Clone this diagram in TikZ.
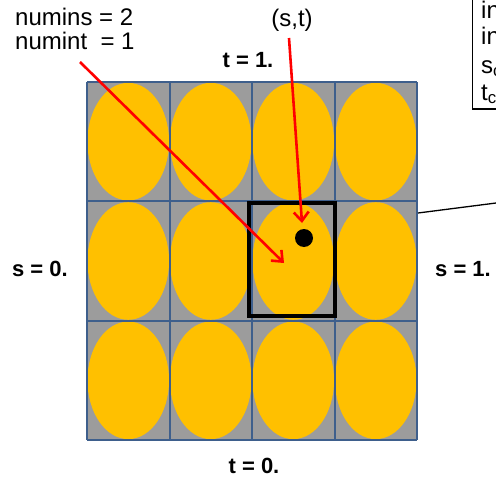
\documentclass[tikz,border=0pt]{standalone}
\usepackage{fontspec}
\setmainfont{Liberation Sans}
\usetikzlibrary{arrows.meta}
\definecolor{cellgray}{HTML}{9C9C9C}
\definecolor{ovalorange}{HTML}{FFC000}
\definecolor{gridblue}{HTML}{3E5F8C}
\begin{document}
\begin{tikzpicture}[x=1pt,y=-1pt,
  lbl/.style={inner sep=0pt,font=\fontsize{24}{23.5}\selectfont},
  blbl/.style={inner sep=0pt,font=\fontsize{22}{24}\selectfont\bfseries},
  redarrow/.style={draw=red,line width=2.6pt,-{Straight Barb[length=9pt,width=15pt,line width=2.6pt]}},
  oval/.style={fill=ovalorange,draw=none}]
\useasboundingbox (0,0) rectangle (496,479);
\clip (0,0) rectangle (496,479);
% grid background
\fill[cellgray] (87,82) rectangle (417,440);
\foreach \i in {0,...,3}{
  \foreach \j in {0,...,2}{
    \fill[ovalorange] ({87+82.5*\i+41.25},{82+119.33*\j+59.67}) ellipse (40.8 and 58.8);
  }
}
\foreach \i in {0,...,4}{
  \draw[gridblue,line width=2pt] ({87+82.5*\i},82) -- ({87+82.5*\i},440);
}
\foreach \j in {0,...,3}{
  \draw[gridblue,line width=2pt] (87,{82+119.33*\j}) -- (417,{82+119.33*\j});
}
% highlighted cell
\draw[black,line width=4pt] (249,203) rectangle (335,316);
\node[circle,fill=black,minimum size=18pt,inner sep=0pt] (pt) at (304,238) {};
% labels
\node[lbl,anchor=base west] (numins) at (15,26) {numins = 2};
\node[lbl,anchor=base west] (numint) at (15,49) {numint\ \ = 1};
\node[lbl] (st) at (292,20) {(s,t)};
\node[blbl] (t1) at (248,60) {t = 1.};
\node[blbl] (t0) at (254,466) {t = 0.};
\node[blbl] (s0) at (40,269) {s = 0.};
\node[blbl] (s1) at (463,269) {s = 1.};
% arrows
\coordinate (a1s) at (80,62);
\coordinate (a1e) at (284,263);
\coordinate (a2s) at (289,38);
\coordinate (a2e) at (302,223);
\draw[redarrow] (a1s) -- (a1e);
\draw[redarrow] (a2s) -- (a2e);
% line to box
\coordinate (ls) at (418,213);
\coordinate (le) at (500,202.5);
\draw[black,line width=1.3pt] (ls) -- (le);
% clipped text box at top right
\draw[black,line width=1.2pt] (472.5,-5) rectangle (520,109);
\node[lbl,anchor=base west] (b1) at (481,18) {in};
\node[lbl,anchor=base west] (b2) at (481,45) {in};
\node[lbl,anchor=base west] (b3) at (481,73) {s\textsubscript{c}};
\node[lbl,anchor=base west] (b4) at (481,100) {t\textsubscript{c}};
\end{tikzpicture}
\end{document}
